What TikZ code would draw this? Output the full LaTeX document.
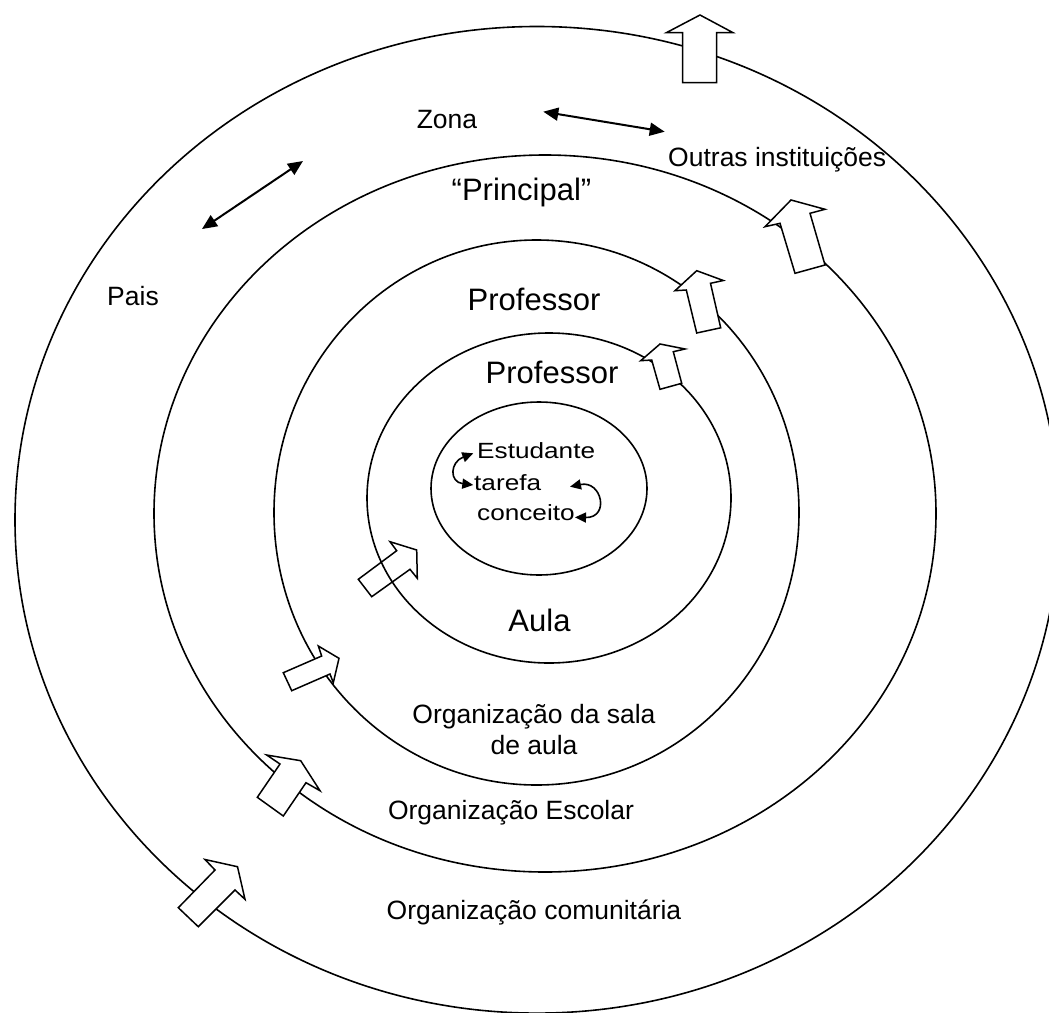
\documentclass[tikz,border=0pt]{standalone}
\usepackage{fontspec}
\setmainfont{Liberation Sans}
\newfontfamily\innerfont[FakeStretch=1.19]{Liberation Sans}
\usetikzlibrary{arrows.meta}
\tikzset{
  ring/.style={draw, line width=1.6pt},
  smalltxt/.style={inner sep=0pt, font=\fontsize{26.5}{30}\selectfont},
  largetxt/.style={inner sep=0pt, font=\fontsize{31}{36}\selectfont},
  innertxt/.style={inner sep=0pt, font=\innerfont\fontsize{22}{26}\selectfont},
  blockarrow/.style={draw, line width=1.5pt, fill=white, line join=miter},
  openarrow/.style={draw, line width=1.5pt, line join=miter},
  dblarrow/.style={line width=2pt, {Triangle[length=15pt,width=13pt]}-{Triangle[length=15pt,width=13pt]}},
  curvarrow/.style={line width=1.6pt, {Triangle[length=11pt,width=10pt]}-{Triangle[length=11pt,width=10pt]}}
}
\begin{document}
\begin{tikzpicture}[x=1pt,y=-1pt]
\useasboundingbox (0,0) rectangle (1049,1012);
\fill[white] (0,0) rectangle (1049,1012);
\clip (0,0) rectangle (1049,1012);

% rings
\draw[ring] (537,519.8) ellipse [x radius=522, y radius=493.3];
\draw[ring] (545,513.5) ellipse [x radius=391, y radius=358.5];
\draw[ring] (536.5,512.5) ellipse [x radius=262.5, y radius=272.5];
\draw[ring] (549,498) ellipse [x radius=182, y radius=165];
\draw[ring] (539,488.5) ellipse [x radius=108, y radius=86.5];

% block arrows
\draw[blockarrow] (700,15) -- (732.7,32.5) -- (716.7,32.5) -- (716.7,82.7) -- (682.7,82.7) -- (682.7,32.5) -- (666.7,32.5) -- cycle;
\draw[blockarrow] (791,200) -- (825,209.3) -- (810,213.3) -- (825,265) -- (795,273.3) -- (780,223.3) -- (765,226.7) -- cycle;
\draw[blockarrow] (696.7,270.7) -- (723.3,280.5) -- (710.5,283.3) -- (720.7,327.8) -- (696.7,333) -- (686.3,290) -- (675,290.7) -- cycle;
\draw[blockarrow] (660,344) -- (685,349) -- (673.3,351.7) -- (681.7,383.3) -- (660,389.3) -- (651.7,360) -- (640.7,360.7) -- cycle;
\draw[openarrow] (416.7,550) -- (390,541.7) -- (396.7,550.7) -- (358.3,579.3) -- (371.7,596.7) -- (410,569.3) -- (417.3,578.3) -- cycle;
\draw[blockarrow] (339,658.3) -- (318.3,646) -- (321.7,656) -- (283.3,672.7) -- (291.7,690.7) -- (330,674) -- (333.3,682.7) -- cycle;
\draw[blockarrow] (300.7,760.7) -- (266.7,755) -- (280,764) -- (257.3,797.3) -- (283.3,816) -- (306,782.7) -- (320,790.7) -- cycle;
\draw[blockarrow] (237.5,866.7) -- (205,859.5) -- (215,870) -- (178.3,907.7) -- (198.3,926.7) -- (235,890) -- (245,899.3) -- cycle;

% texts
\node[smalltxt, anchor=base] (zona) at (447,128) {Zona};
\node[smalltxt, anchor=base west] (outras) at (668,166) {Outras instituições};
\node[largetxt, anchor=base] (principal) at (521.5,200) {“Principal”};
\node[smalltxt, anchor=base] (pais) at (133,305) {Pais};
\node[largetxt, anchor=base] (prof1) at (534,310) {Professor};
\node[largetxt, anchor=base] (prof2) at (552,383) {Professor};
\node[innertxt, anchor=base west] (estud) at (477,458) {Estudante};
\node[innertxt, anchor=base west] (tarefa) at (474,490) {tarefa};
\node[innertxt, anchor=base west] (conceito) at (477,520) {conceito};
\node[largetxt, anchor=base] (aula) at (539.5,631) {Aula};
\node[smalltxt, anchor=base] (orgsala) at (534,723) {Organização da sala};
\node[smalltxt, anchor=base] (orgsalab) at (534,754) {de aula};
\node[smalltxt, anchor=base] (orgesc) at (511,819) {Organização Escolar};
\node[smalltxt, anchor=base] (orgcom) at (534,919) {Organização comunitária};

% double arrows
\coordinate (za) at (543.3,111.7);
\coordinate (zb) at (664.7,131.7);
\draw[dblarrow] (za) -- (zb);
\coordinate (pa) at (303,161);
\coordinate (pb) at (202,229);
\draw[dblarrow] (pa) -- (pb);

% inner curved arrows
\coordinate (la) at (473.3,453.3);
\coordinate (lb) at (473.3,485);
\draw[curvarrow] (la) .. controls (450,462) and (449,482) .. (lb);
\coordinate (ra) at (570,486.7);
\coordinate (rb) at (575,517.3);
\draw[curvarrow] (ra) .. controls (602,480) and (610,518) .. (rb);
\end{tikzpicture}
\end{document}
